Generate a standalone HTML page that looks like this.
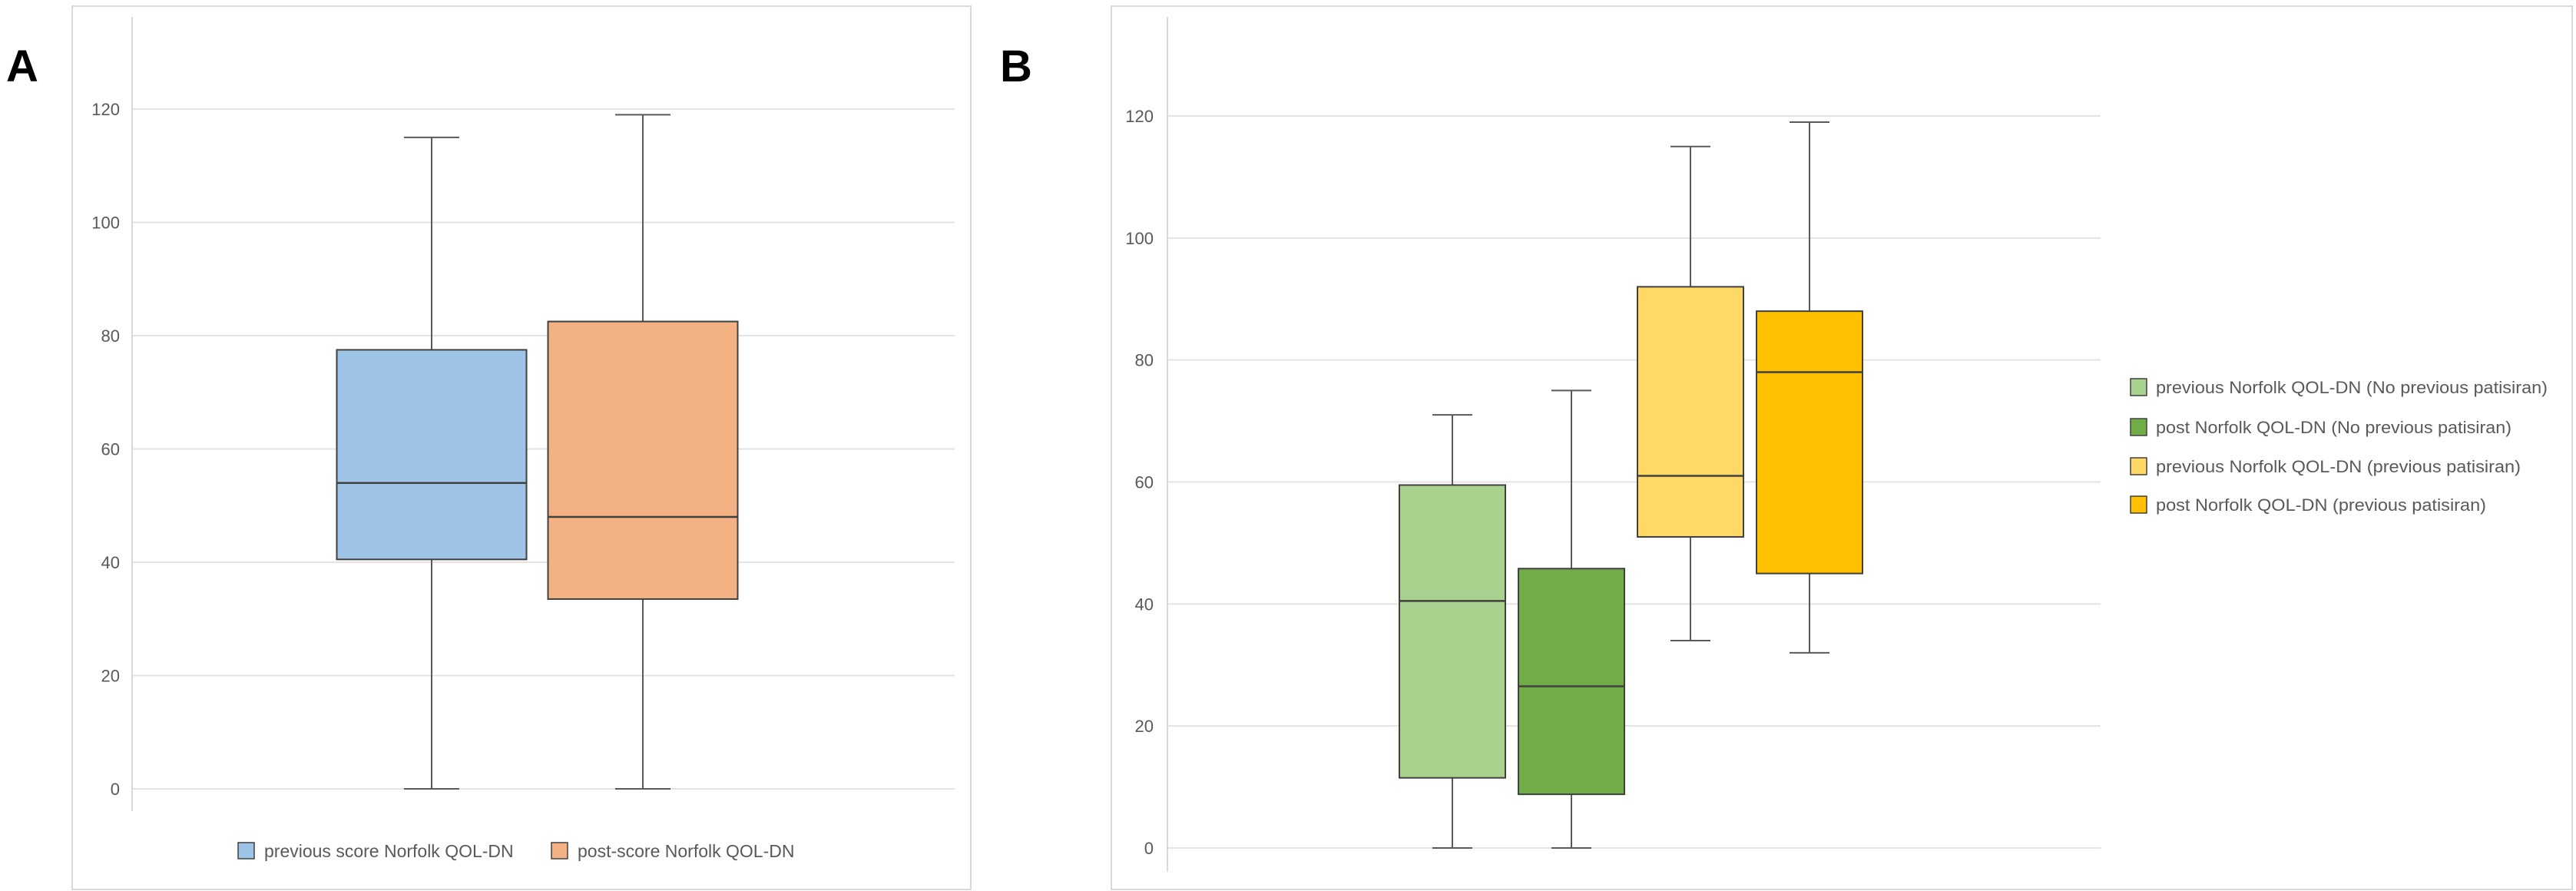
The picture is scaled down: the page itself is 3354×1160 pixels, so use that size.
<!DOCTYPE html>
<html><head><meta charset="utf-8"><style>
html,body{margin:0;padding:0;background:#fff;}
svg{display:block;font-family:"Liberation Sans",sans-serif;}
</style></head><body>
<svg id="chart" width="3354" height="1160" viewBox="0 0 3354 1160" xmlns="http://www.w3.org/2000/svg">
<rect x="94" y="8" width="1170" height="1150" fill="#fff" stroke="#d9d9d9" stroke-width="2"/>
<rect x="1447" y="8" width="1902" height="1150" fill="#fff" stroke="#d9d9d9" stroke-width="2"/>
<text x="8" y="106" font-size="58" font-weight="bold" fill="#000">A</text>
<text x="1302" y="106" font-size="58" font-weight="bold" fill="#000">B</text>
<g id="pa"></g>
<g id="pb"></g>
</svg>
<script>
const ticks = [0, 20, 40, 60, 80, 100, 120];
const seriesA = ["previous score Norfolk QOL-DN", "post-score Norfolk QOL-DN"];
const minA = [0, 0];
const q1A = [40.5, 33.5];
const medA = [54, 48];
const q3A = [77.5, 82.5];
const maxA = [115, 119];
const seriesB = ["previous  Norfolk QOL-DN (No previous patisiran)", "post  Norfolk QOL-DN (No previous patisiran)", "previous  Norfolk QOL-DN (previous patisiran)", "post Norfolk QOL-DN (previous patisiran)"];
const minB = [0, 0, 34, 32];
const q1B = [11.5, 8.8, 51, 45];
const medB = [40.5, 26.5, 61, 78];
const q3B = [59.5, 45.8, 92, 88];
const maxB = [71, 75, 115, 119];
const colorsA = ["#9dc3e6", "#f4b183"];
const colorsB = ["#a9d18e", "#70ad47", "#ffd966", "#ffc000"];
const NS = "http://www.w3.org/2000/svg";
function mk(parent, tag, attrs, text) {
  const e = document.createElementNS(NS, tag);
  for (const k in attrs) e.setAttribute(k, attrs[k]);
  if (text !== undefined) e.textContent = text;
  parent.appendChild(e);
  return e;
}
function drawPanel(g, cfg) {
  const y = v => cfg.y0 + (cfg.y120 - cfg.y0) * v / 120;
  ticks.forEach(t => {
    const l = mk(g, "line", {x1: cfg.ax, x2: cfg.gx2, y1: y(t), y2: y(t), stroke: "#e3e3e3", "stroke-width": 2});
    
    
    const tx = mk(g, "text", {x: cfg.lx, y: y(t) + 8, "font-size": cfg.fs, fill: "#595959", "text-anchor": "end"}, String(t));
    
    
  });
  const ax = mk(g, "line", {x1: cfg.ax, x2: cfg.ax, y1: cfg.axTop, y2: cfg.axBot, stroke: "#d9d9d9", "stroke-width": 2});
  
  
  cfg.names.forEach((n, i) => {
    const cx = cfg.x0 + i * cfg.step, w = cfg.bw;
    const bg = mk(g, "g", {});
    
    
    mk(bg, "line", {x1: cx, x2: cx, y1: y(cfg.max[i]), y2: y(cfg.q3[i]), stroke: "#595959", "stroke-width": 2});
    mk(bg, "line", {x1: cx, x2: cx, y1: y(cfg.q1[i]), y2: y(cfg.min[i]), stroke: "#595959", "stroke-width": 2});
    mk(bg, "line", {x1: cx - cfg.cap / 2, x2: cx + cfg.cap / 2, y1: y(cfg.max[i]), y2: y(cfg.max[i]), stroke: "#595959", "stroke-width": 2});
    mk(bg, "line", {x1: cx - cfg.cap / 2, x2: cx + cfg.cap / 2, y1: y(cfg.min[i]), y2: y(cfg.min[i]), stroke: "#595959", "stroke-width": 2});
    mk(bg, "rect", {x: cx - w / 2, y: y(cfg.q3[i]), width: w, height: y(cfg.q1[i]) - y(cfg.q3[i]), fill: cfg.colors[i], stroke: "#404040", "stroke-width": 2});
    mk(bg, "line", {x1: cx - w / 2, x2: cx + w / 2, y1: y(cfg.med[i]), y2: y(cfg.med[i]), stroke: "#404040", "stroke-width": 2.5});
  });
}
const pa = document.getElementById("pa"), pb = document.getElementById("pb");
drawPanel(pa, {y0: 1027, y120: 142, ax: 172, gx2: 1243, lx: 156, fs: 22, axTop: 22, axBot: 1056,
  x0: 562, step: 275, bw: 247, cap: 72, names: seriesA, colors: colorsA,
  min: minA, q1: q1A, med: medA, q3: q3A, max: maxA});
drawPanel(pb, {y0: 1104, y120: 151, ax: 1520, gx2: 2735, lx: 1502, fs: 22, axTop: 22, axBot: 1135,
  x0: 1891, step: 155, bw: 138, cap: 52, names: seriesB, colors: colorsB,
  min: minB, q1: q1B, med: medB, q3: q3B, max: maxB});
// Legend A
const legAx = [310, 718];
seriesA.forEach((n, i) => {
  const lg = mk(pa, "g", {});
  
  
  mk(lg, "rect", {x: legAx[i], y: 1097, width: 21, height: 21, fill: colorsA[i], stroke: "#404040", "stroke-width": 1.5});
  mk(lg, "text", {x: legAx[i] + 34, y: 1116, "font-size": 23, fill: "#595959"}, n);
});
// Legend B
const legBy = [504, 556, 607, 657];
const legBw = [510, 463, 475, 430];
seriesB.forEach((n, i) => {
  const lg = mk(pb, "g", {});
  
  
  mk(lg, "rect", {x: 2774, y: legBy[i] - 11, width: 21, height: 22, fill: colorsB[i], stroke: "#404040", "stroke-width": 1.5});
  mk(lg, "text", {x: 2807, y: legBy[i] + 8, "font-size": 22, fill: "#595959", textLength: legBw[i], lengthAdjust: "spacingAndGlyphs"}, n);
});
</script>
</body></html>
